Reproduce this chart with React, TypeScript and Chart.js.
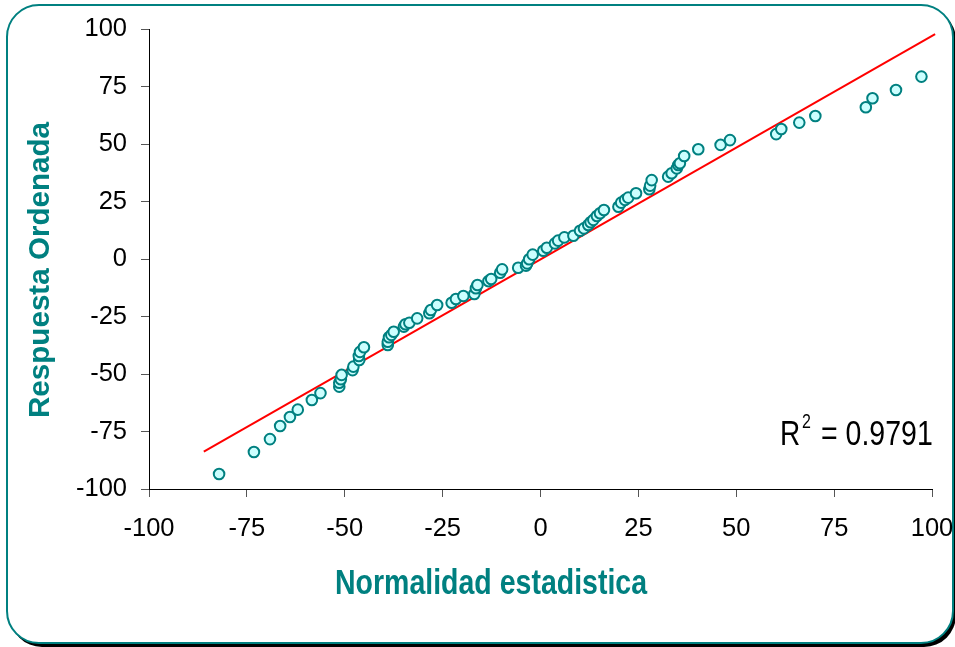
import { useEffect, useRef } from "react";
import { Chart, registerables } from "chart.js";

Chart.register(...registerables);

// Normal scores (x) and ordered responses (y) of the normal probability plot
const normalScores = [
  -82.1, -73.2, -69.1, -66.5, -64.0, -62.0, -58.4, -56.2, -51.4, -51.4,
  -51.0, -50.8, -48.0, -47.8, -46.3, -46.4, -46.1, -45.1, -39.0, -39.0,
  -38.7, -38.1, -37.5, -34.9, -34.5, -33.5, -31.5, -28.4, -28.0, -26.4,
  -22.7, -21.6, -19.7, -16.9, -16.5, -16.1, -13.3, -12.6, -10.3, -9.8,
  -5.7, -3.7, -3.4, -2.9, -2.0, 0.7, 1.6, 3.7, 4.5, 6.1,
  8.4, 10.1, 11.1, 12.2, 12.8, 13.5, 14.4, 15.2, 16.2, 19.9,
  20.6, 21.6, 22.4, 24.4, 27.8, 28.0, 28.4, 32.6, 33.5, 34.8,
  35.2, 35.6, 36.7, 40.3, 46.0, 48.4, 60.2, 61.5, 66.1, 70.2,
  83.1, 84.8, 90.8, 97.3,
];
const orderedResponse = [
  -93.5, -83.9, -78.3, -72.6, -68.7, -65.5, -61.3, -58.3, -55.5, -53.8,
  -52.3, -50.4, -48.3, -46.8, -43.9, -42.2, -40.4, -38.4, -37.4, -36.0,
  -34.0, -33.0, -31.6, -29.4, -28.4, -27.7, -25.8, -23.6, -22.2, -20.0,
  -19.0, -17.4, -16.1, -15.2, -12.7, -11.3, -9.6, -8.7, -6.0, -4.5,
  -3.8, -2.9, -1.9, -0.1, 1.9, 3.6, 4.9, 6.8, 8.0, 9.4,
  10.1, 12.3, 13.3, 14.8, 16.0, 17.0, 18.7, 19.9, 21.3, 22.7,
  24.5, 25.7, 26.7, 28.6, 30.3, 31.9, 34.3, 35.8, 37.3, 39.4,
  40.9, 41.6, 44.8, 47.7, 49.6, 51.7, 54.3, 56.5, 59.3, 62.2,
  66.0, 69.9, 73.5, 79.3,
];

// Linear trend line end points
const fitLineX = [-86.0, 100.8];
const fitLineY = [-83.8, 97.8];

const axisTicks = [-100, -75, -50, -25, 0, 25, 50, 75, 100];

const xTitle = "Normalidad estadistica";
const yTitle = "Respuesta Ordenada";
const rSquaredValue = "0.9791";

const TEAL = "#008080";
const FONT = "'Liberation Sans', Arial, sans-serif";

const framePlugin = {
  id: "frame",
  beforeDraw(chart: any) {
    const ctx = chart.ctx as CanvasRenderingContext2D;
    ctx.save();
    // drop shadow
    ctx.fillStyle = "#000";
    ctx.beginPath();
    ctx.roundRect(10, 8, 946, 639, 32);
    ctx.fill();
    // panel
    ctx.fillStyle = "#fff";
    ctx.beginPath();
    ctx.roundRect(7, 5, 946, 638, 32);
    ctx.fill();
    ctx.strokeStyle = TEAL;
    ctx.lineWidth = 2;
    ctx.stroke();
    ctx.restore();
  },
};

const textPlugin = {
  id: "texts",
  afterDraw(chart: any) {
    const ctx = chart.ctx as CanvasRenderingContext2D;
    ctx.save();
    ctx.fillStyle = TEAL;
    ctx.textBaseline = "alphabetic";

    // x axis title
    ctx.save();
    ctx.translate(491, 594);
    ctx.scale(1, 1.22);
    ctx.font = `bold 28.5px ${FONT}`;
    ctx.textAlign = "center";
    ctx.fillText(xTitle, 0, 0);
    ctx.restore();

    // y axis title
    ctx.save();
    ctx.translate(49, 270);
    ctx.rotate(-Math.PI / 2);
    ctx.font = `bold 29.6px ${FONT}`;
    ctx.textAlign = "center";
    ctx.fillText(yTitle, 0, 0);
    ctx.restore();

    // R squared annotation
    ctx.fillStyle = "#000";
    ctx.textAlign = "left";
    ctx.save();
    ctx.translate(780, 445);
    ctx.scale(1, 1.25);
    ctx.font = `28px ${FONT}`;
    ctx.fillText("R", 0, 0);
    ctx.restore();
    ctx.save();
    ctx.translate(802, 428);
    ctx.scale(1, 1.3);
    ctx.font = `16px ${FONT}`;
    ctx.fillText("2", 0, 0);
    ctx.restore();
    ctx.save();
    ctx.translate(821, 445);
    ctx.scale(1, 1.25);
    ctx.font = `28.5px ${FONT}`;
    ctx.fillText("= " + rSquaredValue, 0, 0);
    ctx.restore();

    ctx.restore();
  },
};

function axisOptions(isX: boolean) {
  return {
    type: "linear" as const,
    position: isX ? ("bottom" as const) : ("left" as const),
    min: -100,
    max: 100,
    afterBuildTicks: (scale: any) => {
      scale.ticks = axisTicks.map((v) => ({ value: v }));
    },
    afterFit: (scale: any) => {
      if (isX) {
        scale.height = 158;
        scale.paddingLeft = 0;
        scale.paddingRight = 23;
      } else {
        scale.width = 149;
        scale.paddingTop = 29;
        scale.paddingBottom = 0;
      }
    },
    ticks: {
      color: "#000",
      padding: isX ? 17 : 14,
      maxRotation: 0,
      font: { family: FONT, size: 25.5 },
      callback: (v: any) => String(v),
    },
    grid: {
      display: true,
      drawOnChartArea: false,
      drawTicks: true,
      tickLength: 8,
      color: "#555",
      tickColor: "#555",
    },
    border: { display: true, color: "#000", width: 1 },
  };
}

export default function App() {
  const canvasRef = useRef<HTMLCanvasElement | null>(null);

  useEffect(() => {
    const canvas = canvasRef.current;
    if (!canvas) return;
    const points = normalScores.map((x, i) => ({ x, y: orderedResponse[i] }));
    const fit = fitLineX.map((x, i) => ({ x, y: fitLineY[i] }));

    const chart = new Chart(canvas, {
      type: "scatter",
      data: {
        datasets: [
          {
            data: points,
            order: 0,
            pointRadius: 5.3,
            pointBorderWidth: 2,
            pointBackgroundColor: "#ccffff",
            pointBorderColor: TEAL,
            showLine: false,
          },
          {
            data: fit,
            order: 1,
            showLine: true,
            pointRadius: 0,
            borderColor: "#ff0000",
            borderWidth: 2,
            clip: false,
          } as any,
        ],
      },
      options: {
        responsive: false,
        animation: false,
        devicePixelRatio: 1,
        events: [],
        layout: { padding: { top: 29, right: 23, left: 0, bottom: 0 } },
        plugins: {
          legend: { display: false },
          tooltip: { enabled: false },
          title: { display: false },
        },
        scales: {
          x: axisOptions(true),
          y: axisOptions(false),
        },
      },
      plugins: [framePlugin, textPlugin],
    });
    return () => chart.destroy();
  }, []);

  return (
    <div style={{ position: "absolute", left: 0, top: 0, width: 955, height: 647, background: "#fff" }}>
      <canvas ref={canvasRef} width={955} height={647} style={{ display: "block" }} />
    </div>
  );
}
